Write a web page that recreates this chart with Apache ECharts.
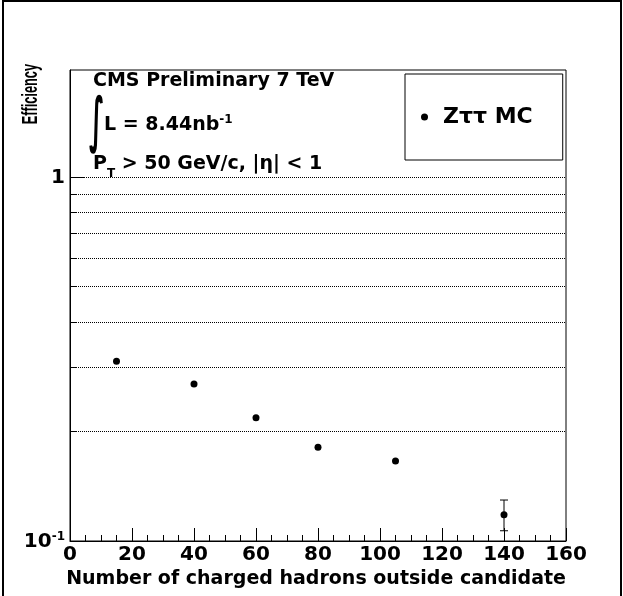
<!DOCTYPE html>
<html>
<head>
<meta charset="utf-8">
<script src="https://cdn.jsdelivr.net/npm/echarts@6/dist/echarts.min.js"></script>
<style>
  html, body { margin: 0; padding: 0; background: #fff; }
  #chart { width: 623px; height: 596px; }
</style>
</head>
<body>
<div id="chart"></div>
<script>
// data
var nHadrons = [15, 40, 60, 80, 105, 140];
var efficiency = [0.312, 0.27, 0.218, 0.181, 0.166, 0.118];
// only the last point has an error bar larger than the marker
var errLow = [null, null, null, null, null, 0.1067];
var errHigh = [null, null, null, null, null, 0.1296];

var xTicks = [0, 160, 20];
var yMajor = [0.1, 1];
var yMinor = [0.2, 0.3, 0.4, 0.5, 0.6, 0.7, 0.8, 0.9];
var gridValues = [0.2, 0.3, 0.4, 0.5, 0.6, 0.7, 0.8, 0.9, 1];

var font = '"DejaVu Sans"';

var points = nHadrons.map(function (x, i) { return [x, efficiency[i]]; });
var errBars = [];
nHadrons.forEach(function (x, i) {
  if (errLow[i] != null) errBars.push([x, errLow[i], errHigh[i]]);
});

var chart = echarts.init(document.getElementById('chart'));

var yBase = {
  type: 'log',
  logBase: 10,
  min: 0.1,
  max: 1.97,
  position: 'left',
  splitLine: { show: false }
};

var option = {
  animation: false,
  backgroundColor: '#fff',
  grid: {
    left: 70, right: 57, top: 70, bottom: 55,
    show: true, borderColor: '#000', borderWidth: 1
  },
  xAxis: {
    type: 'value',
    min: xTicks[0],
    max: xTicks[1],
    interval: xTicks[2],
    axisLine: { lineStyle: { color: '#000', width: 1 } },
    axisTick: { inside: true, length: 13, lineStyle: { color: '#000' } },
    minorTick: { show: true, splitNumber: 4, length: 6, lineStyle: { color: '#000' } },
    splitLine: { show: false },
    axisLabel: {
      color: '#000', fontFamily: font, fontWeight: 'bold', fontSize: 20, margin: 4
    }
  },
  yAxis: [
    Object.assign({}, yBase, {
      axisLine: { show: true, lineStyle: { color: '#000', width: 1 } },
      axisTick: { inside: true, length: 14, customValues: yMajor, lineStyle: { color: '#000' } },
      axisLabel: {
        customValues: yMajor,
        margin: 5,
        formatter: function (v) {
          return v < 0.5 ? '{b|10}{s|-1}' : '{b|1}';
        },
        rich: {
          b: { fontFamily: font, fontWeight: 'bold', fontSize: 20, color: '#000', lineHeight: 21, verticalAlign: 'bottom' },
          s: { fontFamily: font, fontWeight: 'bold', fontSize: 12, color: '#000', lineHeight: 12, verticalAlign: 'top' }
        }
      }
    }),
    Object.assign({}, yBase, {
      axisLine: { show: false },
      axisTick: { inside: true, length: 7, customValues: yMinor, lineStyle: { color: '#000' } },
      axisLabel: { show: false }
    })
  ],
  legend: {
    left: 405,
    top: 74,
    orient: 'vertical',
    padding: [32, 30, 32, 16],
    borderColor: '#000',
    borderWidth: 1,
    icon: 'circle',
    itemWidth: 7,
    itemHeight: 7,
    itemStyle: { color: '#000', opacity: 1 },
    textStyle: {
      color: '#000', fontFamily: font, fontWeight: 'bold', fontSize: 22,
      padding: [0, 0, 0, 10]
    },
    data: ['Zττ MC']
  },
  graphic: [
    // outer canvas frame
    { type: 'polyline', shape: { points: [[3, 596], [3, 1], [621, 1], [621, 596]] },
      style: { stroke: '#000', lineWidth: 2, fill: null } },
    { type: 'text', left: 93, top: 72,
      style: { text: 'CMS Preliminary 7 TeV', fill: '#000', font: 'bold 19px ' + font } },
    { type: 'text', x: 89, y: 94, scaleX: 0.42,
      style: { text: '\u222B', fill: '#000', font: 'bold 60px ' + font } },
    { type: 'text', left: 104, top: 114,
      style: {
        text: '{n|L = 8.44nb}{s|-1}',
        rich: {
          n: { fill: '#000', fontFamily: font, fontWeight: 'bold', fontSize: 19, lineHeight: 21, verticalAlign: 'bottom' },
          s: { fill: '#000', fontFamily: font, fontWeight: 'bold', fontSize: 12, lineHeight: 12, verticalAlign: 'top' }
        }
      } },
    { type: 'text', left: 93, top: 155,
      style: {
        text: '{n|P}{t|T}{n| > 50 GeV/c, |η| < 1}',
        rich: {
          n: { fill: '#000', fontFamily: font, fontWeight: 'bold', fontSize: 19, lineHeight: 19, verticalAlign: 'top' },
          t: { fill: '#000', fontFamily: font, fontWeight: 'bold', fontSize: 12, lineHeight: 25, verticalAlign: 'bottom' }
        }
      } },
    { type: 'text', x: 31, y: 64, rotation: Math.PI / 2, scaleX: 0.58,
      style: { text: 'Efficiency', fill: '#000', font: 'bold 22px "Liberation Sans"', align: 'right', verticalAlign: 'middle' } },
    { type: 'text', x: 566, y: 579,
      style: { text: 'Number of charged hadrons outside candidate', fill: '#000', font: 'bold 19px ' + font, align: 'right', verticalAlign: 'middle' } }
  ],
  series: [
    {
      name: 'Zττ MC',
      type: 'scatter',
      data: points,
      symbol: 'circle',
      symbolSize: 7,
      itemStyle: { color: '#000', opacity: 1 },
      z: 5,
      markLine: {
        silent: true,
        symbol: 'none',
        label: { show: false },
        lineStyle: { type: 'dotted', color: '#000', width: 1, opacity: 1 },
        data: gridValues.map(function (v) { return { yAxis: v }; })
      }
    },
    {
      type: 'custom',
      data: errBars,
      z: 4,
      renderItem: function (params, api) {
        var x = api.value(0);
        var lo = api.coord([x, api.value(1)]);
        var hi = api.coord([x, api.value(2)]);
        var w = 4;
        return {
          type: 'group',
          children: [
            { type: 'line', shape: { x1: lo[0], y1: lo[1], x2: hi[0], y2: hi[1] }, style: { stroke: '#000', lineWidth: 1 } },
            { type: 'line', shape: { x1: lo[0] - w, y1: lo[1], x2: lo[0] + w, y2: lo[1] }, style: { stroke: '#000', lineWidth: 1 } },
            { type: 'line', shape: { x1: hi[0] - w, y1: hi[1], x2: hi[0] + w, y2: hi[1] }, style: { stroke: '#000', lineWidth: 1 } }
          ]
        };
      }
    }
  ]
};

chart.setOption(option);
</script>
</body>
</html>
